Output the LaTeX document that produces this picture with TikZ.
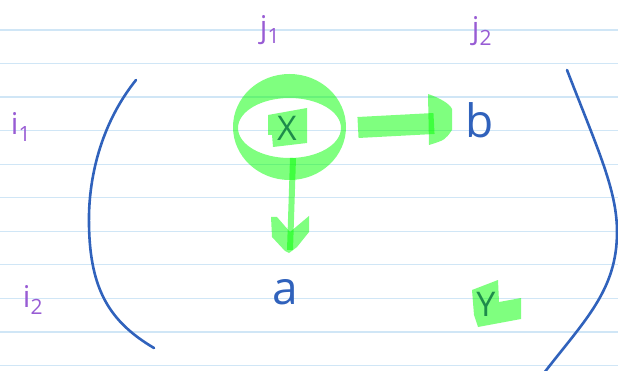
\documentclass[tikz,border=0pt]{standalone}
\usepackage{fontspec}
\setmainfont{Open Sans}
\usetikzlibrary{shapes.geometric}
\definecolor{rulecol}{RGB}{208,230,246}
\definecolor{ink}{RGB}{48,98,188}
\definecolor{purp}{RGB}{152,92,212}
\definecolor{hlgreen}{RGB}{0,255,0}
\definecolor{dkg}{RGB}{30,140,75}
\begin{document}
\begin{tikzpicture}[x=1pt,y=-1pt,
  hlfill/.style={fill=hlgreen,fill opacity=0.5,draw=none},
  hlline/.style={draw=hlgreen,draw opacity=0.5},
  idx/.style={text=purp,font=\fontsize{30}{30}\selectfont,inner sep=0pt},
  ent/.style={text=ink,font=\fontsize{46}{46}\selectfont,inner sep=0pt},
  hlent/.style={text=dkg,font=\fontsize{34}{34}\selectfont,inner sep=0pt},
  paren/.style={draw=ink,line width=2.6pt,line cap=round}]
\useasboundingbox (0,0) rectangle (618,371);
% ruled paper
\foreach \k in {0,...,10}{
  \pgfmathsetmacro{\yy}{30+33.55*\k}
  \draw[rulecol,line width=1.2pt] (0,\yy) -- (618,\yy);
}
% index labels
\node[idx] (j1) at (270,30) {j\textsubscript{1}};
\node[idx] (j2) at (482,31) {j\textsubscript{2}};
\node[idx] (i1) at (21,127) {i\textsubscript{1}};
\node[idx] (i2) at (33,300) {i\textsubscript{2}};
% parentheses
\draw[paren] (136,80) .. controls (100,125) and (88,180) .. (89,225) .. controls (90,290) and (110,322) .. (154,348);
\draw[paren] (567,70) .. controls (598,150) and (617,190) .. (617,232) .. controls (617,290) and (585,320) .. (544,373);
% highlight ring
\node[ellipse,minimum width=113pt,minimum height=106pt,inner sep=0pt] (ring) at (289.5,127) {};
\fill[hlfill,even odd rule] (ring.center) ellipse [x radius=56.5pt,y radius=53pt]
  (289.5,128) ellipse [x radius=51.5pt,y radius=30pt];
% X entry
\fill[hlfill] (268,115) -- (307,108) -- (307,143) -- (273,147) -- (272,135) -- (268,135) -- cycle;
\node[hlent] (x) at (287,128) {X};
% b and a
\node[ent] (b) at (480,120) {b};
\node[ent] (a) at (285,292) {a};
% Y entry
\fill[hlfill] (472,290) -- (498,280) -- (499,302) -- (521,298) -- (521,319) -- (478,327) -- (474,315) -- cycle;
\node[hlent] (y) at (486,304) {Y};
% right arrow
\coordinate (rs) at (358,127.5);
\coordinate (re) at (434,123.5);
\draw[hlline,line width=21pt] (rs) -- (re);
\fill[hlfill] (428,94) .. controls (440,98) and (450,104) .. (452,109) -- (452,130) .. controls (445,140) .. (429,145) -- cycle;
% down arrow
\coordinate (ds) at (293,158);
\coordinate (de) at (290,250);
\draw[hlline,line width=6pt] (ds) -- (de);
\fill[hlfill] (271,217) -- (277,217) -- (290,232) -- (309,216) -- (309,232) -- (297,247) -- (289,253) -- (285,251) -- (272,237) -- cycle;
\end{tikzpicture}
\end{document}
